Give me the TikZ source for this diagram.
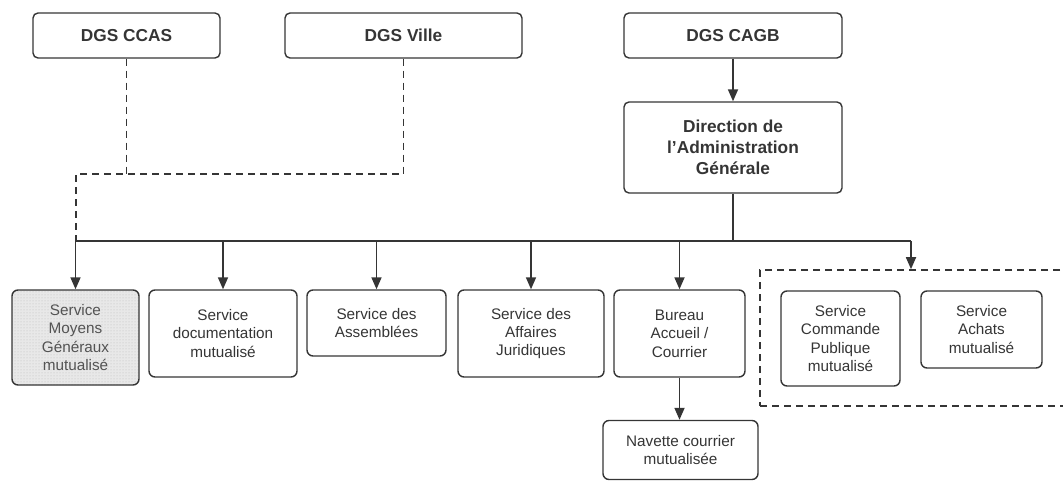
\documentclass[tikz,border=0pt]{standalone}
\usepackage{fontspec}
\setmainfont{Liberation Sans}
\usepackage{tikz}
\usetikzlibrary{arrows.meta, positioning, patterns}
\definecolor{ink}{HTML}{353535}

\begin{document}
\begin{tikzpicture}[
  x=1pt, y=-1pt,
  topbox/.style={draw=ink, line width=1.4pt, rounded corners=5pt, align=center, text=ink,
                 font=\bfseries\fontsize{17.3}{20.8}\selectfont, inner sep=0pt},
  servbox/.style={draw=ink, line width=1.4pt, rounded corners=6pt, align=center, text=ink,
                  font=\fontsize{15.3}{18.4}\selectfont, inner sep=0pt},
  shadebox/.style={servbox, preaction={fill=gray!18}, pattern=dots, pattern color=gray!55, text=gray!65!black},
  groupbox/.style={draw=ink, line width=1.6pt, dash pattern=on 7pt off 5pt, inner sep=0pt},
  line/.style={draw=ink, line width=1.7pt},
  arr/.style={line, -{Triangle[length=12pt,width=10pt]}},
  dashline/.style={draw=ink, line width=1.6pt, dash pattern=on 7pt off 5pt}
]
\clip (0,0) rectangle (1063,481);

% directions generales
\node[topbox, minimum width=187pt, minimum height=45pt] (ccas) at (126.5,35.5) {DGS CCAS};
\node[topbox, minimum width=237pt, minimum height=45pt] (ville) at (403.5,35.5) {DGS Ville};
\node[topbox, minimum width=218pt, minimum height=45pt] (cagb) at (733,35.5) {DGS CAGB};
\node[topbox, minimum width=218pt, minimum height=91pt] (dag) at (733,147.5) {Direction de\\l'Administration\\Générale};

% services
\node[shadebox, minimum width=127pt, minimum height=95pt] (moyens) at (75.5,337.5) {Service\\Moyens\\Généraux\\mutualisé};
\node[servbox, minimum width=148pt, minimum height=87pt] (doc) at (223,333.5) {Service\\documentation\\mutualisé};
\node[servbox, minimum width=139pt, minimum height=66pt] (assem) at (376.5,323) {Service des\\Assemblées};
\node[servbox, minimum width=146pt, minimum height=87pt] (jur) at (531,333.5) {Service des\\Affaires\\Juridiques};
\node[servbox, minimum width=131pt, minimum height=87pt] (bureau) at (679.5,333.5) {Bureau\\Accueil /\\Courrier};
\node[servbox, minimum width=155pt, minimum height=59pt] (navette) at (680.5,450) {Navette courrier\\mutualisée};

% groupe mutualise
\node[groupbox, minimum width=310pt, minimum height=136pt] (grp) at (915,338) {};
\node[servbox, minimum width=119pt, minimum height=95pt] (commande) at (840.5,338.5) {Service\\Commande\\Publique\\mutualisé};
\node[servbox, minimum width=121pt, minimum height=77pt] (achats) at (981.5,329.5) {Service\\Achats\\mutualisé};

\coordinate (join) at (76,174);
\coordinate (busL) at (75,241);
\coordinate (busR) at (911,241);

\draw[dashline] (ccas.south) -- (ccas.south |- join);
\draw[dashline] (ville.south) |- (join) -- (join |- busL);
\draw[arr] (cagb) -- (dag);
\draw[line] (dag.south) -- (dag.south |- busL);
\draw[line] (busL) -- (busR);
\foreach \n in {moyens,doc,assem,jur,bureau}
  \draw[arr] (\n.north |- busL) -- (\n.north);
\draw[arr] (busR) -- (busR |- grp.north);
\draw[arr] (bureau.south) -- (bureau.south |- navette.north);
\end{tikzpicture}
\end{document}
